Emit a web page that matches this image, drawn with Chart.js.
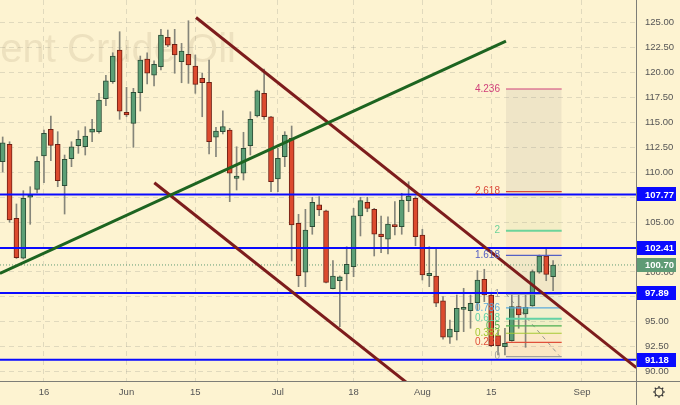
<!DOCTYPE html>
<html>
<head>
<meta charset="utf-8">
<script src="https://cdn.jsdelivr.net/npm/chart.js@4.4.0/dist/chart.umd.min.js"></script>
<style>
    html, body { margin: 0; padding: 0; background: #fdf3d1; }
    #wrap { width: 680px; height: 405px; position: relative; }
</style>
</head>
<body>
<div id="wrap"><canvas id="chart"></canvas></div>
<script>
// daily bars, 6 May .. 26 Aug (index = bar number)
var opens = [
    111.06, 112.80, 105.38, 101.37, 107.49, 108.29, 111.63, 114.31, 112.80, 108.65,
    111.36, 112.66, 112.56, 114.01, 114.07, 117.38, 119.08, 122.26, 116.01, 114.91,
    117.98, 121.36, 119.75, 120.59, 123.54, 122.83, 121.09, 121.83, 120.66, 119.42,
    119.02, 113.51, 114.07, 114.24, 109.39, 109.90, 112.66, 115.64, 117.92, 115.57,
    109.32, 111.56, 113.41, 104.88, 99.97, 104.54, 106.72, 106.14, 98.32, 99.12,
    99.80, 100.53, 105.61, 106.99, 106.28, 103.81, 103.28, 104.71, 104.54, 107.15,
    107.39, 103.71, 99.62, 99.59, 97.09, 93.45, 94.01, 96.25, 96.11, 96.92,
    99.26, 97.69, 93.61, 92.50, 93.11, 96.52, 95.78, 96.59, 99.97, 101.60,
    99.52
];
var highs = [
    113.54, 113.06, 106.82, 108.15, 108.55, 111.56, 114.24, 115.64, 114.07, 111.73,
    113.06, 114.17, 114.57, 115.31, 117.92, 119.72, 121.99, 124.10, 118.52, 118.42,
    121.66, 121.99, 121.19, 124.34, 124.27, 124.34, 122.93, 125.20, 121.76, 119.93,
    121.26, 114.51, 116.17, 114.41, 112.56, 114.01, 116.07, 118.25, 120.36, 115.60,
    112.40, 114.07, 114.64, 105.78, 106.28, 107.49, 107.55, 106.20, 101.13, 99.60,
    102.53, 106.38, 107.49, 107.49, 106.38, 105.61, 105.54, 107.05, 107.89, 109.05,
    107.55, 104.28, 102.53, 102.37, 97.52, 95.18, 97.69, 98.36, 97.69, 100.13,
    100.27, 97.75, 94.18, 94.35, 97.69, 97.69, 97.69, 100.20, 101.70, 102.37,
    101.13
];
var lows = [
    110.03, 104.99, 101.35, 101.30, 104.78, 107.92, 108.95, 111.16, 108.55, 105.81,
    110.56, 111.90, 111.73, 113.06, 113.91, 116.68, 118.92, 115.31, 115.57, 112.50,
    116.14, 118.85, 118.65, 120.26, 122.59, 119.93, 118.98, 118.92, 117.92, 115.57,
    111.83, 111.56, 113.84, 107.05, 108.22, 109.22, 111.73, 115.54, 115.31, 108.05,
    108.05, 110.56, 101.10, 98.52, 98.52, 103.78, 105.64, 98.90, 98.30, 94.51,
    98.19, 99.52, 103.61, 106.04, 101.60, 101.93, 101.80, 103.71, 103.78, 106.04,
    102.63, 99.19, 98.52, 96.52, 93.25, 92.84, 93.17, 94.01, 94.35, 96.11,
    97.02, 92.50, 91.67, 91.67, 93.05, 94.35, 92.44, 96.55, 99.86, 99.12,
    98.12
];
var closes = [
    112.96, 105.21, 101.43, 107.39, 107.72, 111.10, 113.91, 112.70, 109.15, 111.30,
    112.56, 113.31, 113.64, 114.34, 117.25, 119.18, 121.66, 116.14, 115.74, 118.02,
    121.26, 119.93, 120.83, 123.77, 122.76, 121.76, 122.16, 120.76, 118.82, 118.98,
    113.06, 114.14, 114.57, 109.90, 109.62, 112.40, 115.31, 118.18, 115.57, 109.05,
    111.40, 113.74, 104.71, 99.62, 104.21, 106.99, 106.21, 98.96, 99.59, 99.52,
    100.77, 105.64, 107.15, 106.38, 103.78, 103.54, 104.81, 104.54, 107.22, 107.62,
    103.54, 99.69, 99.86, 96.86, 93.45, 94.28, 96.35, 96.41, 96.86, 99.19,
    97.69, 92.60, 92.60, 92.84, 96.52, 95.68, 96.45, 100.03, 101.60, 99.76,
    100.70
];

// time axis
var xTickPos = [6, 18, 28, 40, 51, 61, 71, 84.2];
var xTickLabels = ['16', 'Jun', '15', 'Jul', '18', 'Aug', '15', 'Sep'];
var yTicks = [90, 92.5, 95, 97.5, 100, 102.5, 105, 107.5, 110, 112.5, 115, 117.5, 120, 122.5, 125];

// drawings (bar index, price)
var greenTrend = [[-0.4, 99.86], [73.15, 123.16]];
var upperChannel = [[28.1, 125.52], [92.1, 90.4]];
var lowerChannel = [[22.04, 108.95], [60, 88.2]];
var levels = [107.77, 102.41, 97.89, 91.18];
var lastPrice = 100.70;

// fib extension
var fibStart = 73.15, fibEnd = 81.25;
var fibNames = ['0', '0.236', '0.382', '0.5', '0.618', '0.786', '1', '1.618', '2', '2.618', '4.236'];
var fibPrices = [91.50, 92.94, 93.85, 94.58, 95.31, 96.39, 97.76, 101.67, 104.14, 108.05, 118.35];
var fibColors = ['#a0a0a0', '#e0503a', '#a6c934', '#4caf50', '#62d2a6', '#5aa9db', '#a0a0a0', '#5560c4', '#6ed39a', '#d9483a', '#d0407a'];
var fibBands = ['rgba(230,120,90,0.10)', 'rgba(220,80,60,0.06)', 'rgba(170,200,50,0.08)', 'rgba(80,190,60,0.08)',
    'rgba(90,210,170,0.08)', 'rgba(100,170,230,0.08)', 'rgba(140,130,120,0.10)', 'rgba(255,150,90,0.12)',
    'rgba(170,190,110,0.10)', 'rgba(140,130,130,0.12)'];
var fibTrend = [[73.15, 97.8], [80.9, 91.6]];

var xMin = -0.39, xMax = 92.05;
var gridColor = 'rgba(140,140,130,0.25)';
var axisFont = {family: 'Liberation Sans, Arial, sans-serif', size: 9.5};

function seg(points) {
    return points.map(function (p) { return {x: p[0], y: p[1]}; });
}
function flat(price, a, b) {
    return [{x: a, y: price}, {x: b, y: price}];
}

var datasets = [];

// user drawings on top
datasets.push({type: 'line', data: seg(greenTrend), borderColor: '#1d6420', borderWidth: 3, order: 0});
datasets.push({type: 'line', data: seg(upperChannel), borderColor: '#7d1c1c', borderWidth: 3, order: 0});
datasets.push({type: 'line', data: seg(lowerChannel), borderColor: '#7d1c1c', borderWidth: 3, order: 0});
levels.forEach(function (v) {
    datasets.push({type: 'line', data: flat(v, xMin, xMax), borderColor: '#0a0aff', borderWidth: 2, order: 0});
});
fibPrices.forEach(function (v, i) {
    datasets.push({type: 'line', data: flat(v, fibStart, fibEnd), borderColor: fibColors[i],
        borderWidth: (i === 4 || i === 8) ? 2 : 1.2, order: 1});
});
datasets.push({type: 'line', data: seg(fibTrend), borderColor: 'rgba(130,130,130,0.8)', borderWidth: 1,
    borderDash: [4, 4], order: 1});

// candles
datasets.push({
    type: 'bar',
    data: opens.map(function (o, i) { return {x: i, y: [o, closes[i]]}; }),
    backgroundColor: opens.map(function (o, i) { return closes[i] >= o ? '#5c9f76' : '#dc4a2e'; }),
    borderColor: opens.map(function (o, i) { return closes[i] >= o ? '#2c4d36' : '#6e2014'; }),
    borderWidth: 1, borderSkipped: false, barThickness: 5, minBarLength: 2, grouped: false, order: 2
});
datasets.push({
    type: 'bar',
    data: lows.map(function (l, i) { return {x: i, y: [l, highs[i]]}; }),
    backgroundColor: '#85857a', borderWidth: 0, barThickness: 1, grouped: false, order: 3
});

// fib fills and last price line under candles
fibBands.forEach(function (c, i) {
    datasets.push({type: 'line', data: flat(fibPrices[i + 1], fibStart, fibEnd), borderWidth: 0,
        backgroundColor: c, fill: {value: fibPrices[i]}, order: 4});
});
datasets.push({type: 'line', data: flat(lastPrice, xMin, xMax), borderColor: '#5f9b75', borderWidth: 1,
    borderDash: [1, 2], order: 5});

var deco = {
    id: 'deco',
    beforeDraw: function (chart) {
        var ctx = chart.ctx;
        ctx.save();
        ctx.fillStyle = '#fdf3d1';
        ctx.fillRect(0, 0, chart.width, chart.height);
        ctx.restore();
    },
    beforeDatasetsDraw: function (chart) {
        var ctx = chart.ctx;
        ctx.save();
        ctx.font = '40px Liberation Sans, Arial, sans-serif';
        ctx.fillStyle = 'rgba(130,110,70,0.13)';
        ctx.textAlign = 'right';
        ctx.textBaseline = 'alphabetic';
        ctx.fillText('Brent Crude Oil', 236, 62);
        ctx.restore();
    },
    afterDatasetsDraw: function (chart) {
        var ctx = chart.ctx, xs = chart.scales.x, ys = chart.scales.y;
        var lx = xs.getPixelForValue(fibStart) - 6;
        ctx.save();
        ctx.font = '10px Liberation Sans, Arial, sans-serif';
        ctx.textAlign = 'right';
        ctx.textBaseline = 'middle';
        fibNames.forEach(function (n, i) {
            ctx.fillStyle = fibColors[i];
            ctx.fillText(n, lx, ys.getPixelForValue(fibPrices[i]));
        });
        ctx.restore();
    },
    afterDraw: function (chart) {
        var ctx = chart.ctx, ys = chart.scales.y, area = chart.chartArea;
        ctx.save();
        ctx.strokeStyle = '#7d7d77';
        ctx.lineWidth = 1;
        ctx.beginPath();
        ctx.moveTo(0, area.bottom + 0.5);
        ctx.lineTo(chart.width, area.bottom + 0.5);
        ctx.moveTo(area.right + 0.5, 0);
        ctx.lineTo(area.right + 0.5, chart.height);
        ctx.stroke();

        ctx.font = 'bold 9.5px Liberation Sans, Arial, sans-serif';
        ctx.textBaseline = 'middle';
        ctx.textAlign = 'left';
        function box(v, color) {
            var y = ys.getPixelForValue(v);
            ctx.fillStyle = color;
            ctx.fillRect(area.right + 1, Math.round(y) - 7, 39, 14);
            ctx.fillStyle = '#ffffff';
            ctx.fillText(v.toFixed(2), area.right + 9, y + 0.5);
        }
        levels.forEach(function (v) { box(v, '#0a0aff'); });
        box(lastPrice, '#5f9b75');

        // settings gear
        var gx = 659, gy = 392;
        ctx.strokeStyle = '#333';
        ctx.lineWidth = 1.2;
        ctx.beginPath();
        ctx.arc(gx, gy, 4, 0, Math.PI * 2);
        ctx.stroke();
        ctx.beginPath();
        for (var k = 0; k < 8; k++) {
            var a = k * Math.PI / 4;
            ctx.moveTo(gx + Math.cos(a) * 4, gy + Math.sin(a) * 4);
            ctx.lineTo(gx + Math.cos(a) * 6, gy + Math.sin(a) * 6);
        }
        ctx.stroke();
        ctx.restore();
    }
};

new Chart(document.getElementById('chart').getContext('2d'), {
    type: 'bar',
    data: {datasets: datasets},
    options: {
        responsive: true,
        maintainAspectRatio: false,
        animation: false,
        events: [],
        layout: {padding: 0},
        elements: {line: {tension: 0, fill: false}, point: {radius: 0}},
        plugins: {legend: {display: false}, tooltip: {enabled: false}},
        scales: {
            x: {
                type: 'linear', min: xMin, max: xMax, offset: false,
                afterBuildTicks: function (s) { s.ticks = xTickPos.map(function (v) { return {value: v}; }); },
                afterFit: function (s) { s.height = 24; s.paddingLeft = 0; s.paddingRight = 0; },
                grid: {color: gridColor, drawTicks: false, offset: false},
                border: {display: false, dash: [5, 4]},
                ticks: {padding: 6, color: '#555', font: axisFont, maxRotation: 0, autoSkip: false,
                    callback: function (v, i) { return xTickLabels[i]; }}
            },
            y: {
                type: 'linear', position: 'right', min: 89.06, max: 127.28,
                afterBuildTicks: function (s) { s.ticks = yTicks.map(function (v) { return {value: v}; }); },
                afterFit: function (s) { s.width = 44; s.paddingTop = 0; s.paddingBottom = 0; },
                grid: {color: gridColor, drawTicks: false},
                border: {display: false, dash: [5, 4]},
                ticks: {padding: 9, color: '#555', font: axisFont,
                    callback: function (v) { return v.toFixed(2); }}
            }
        }
    },
    plugins: [deco]
});
</script>
</body>
</html>
